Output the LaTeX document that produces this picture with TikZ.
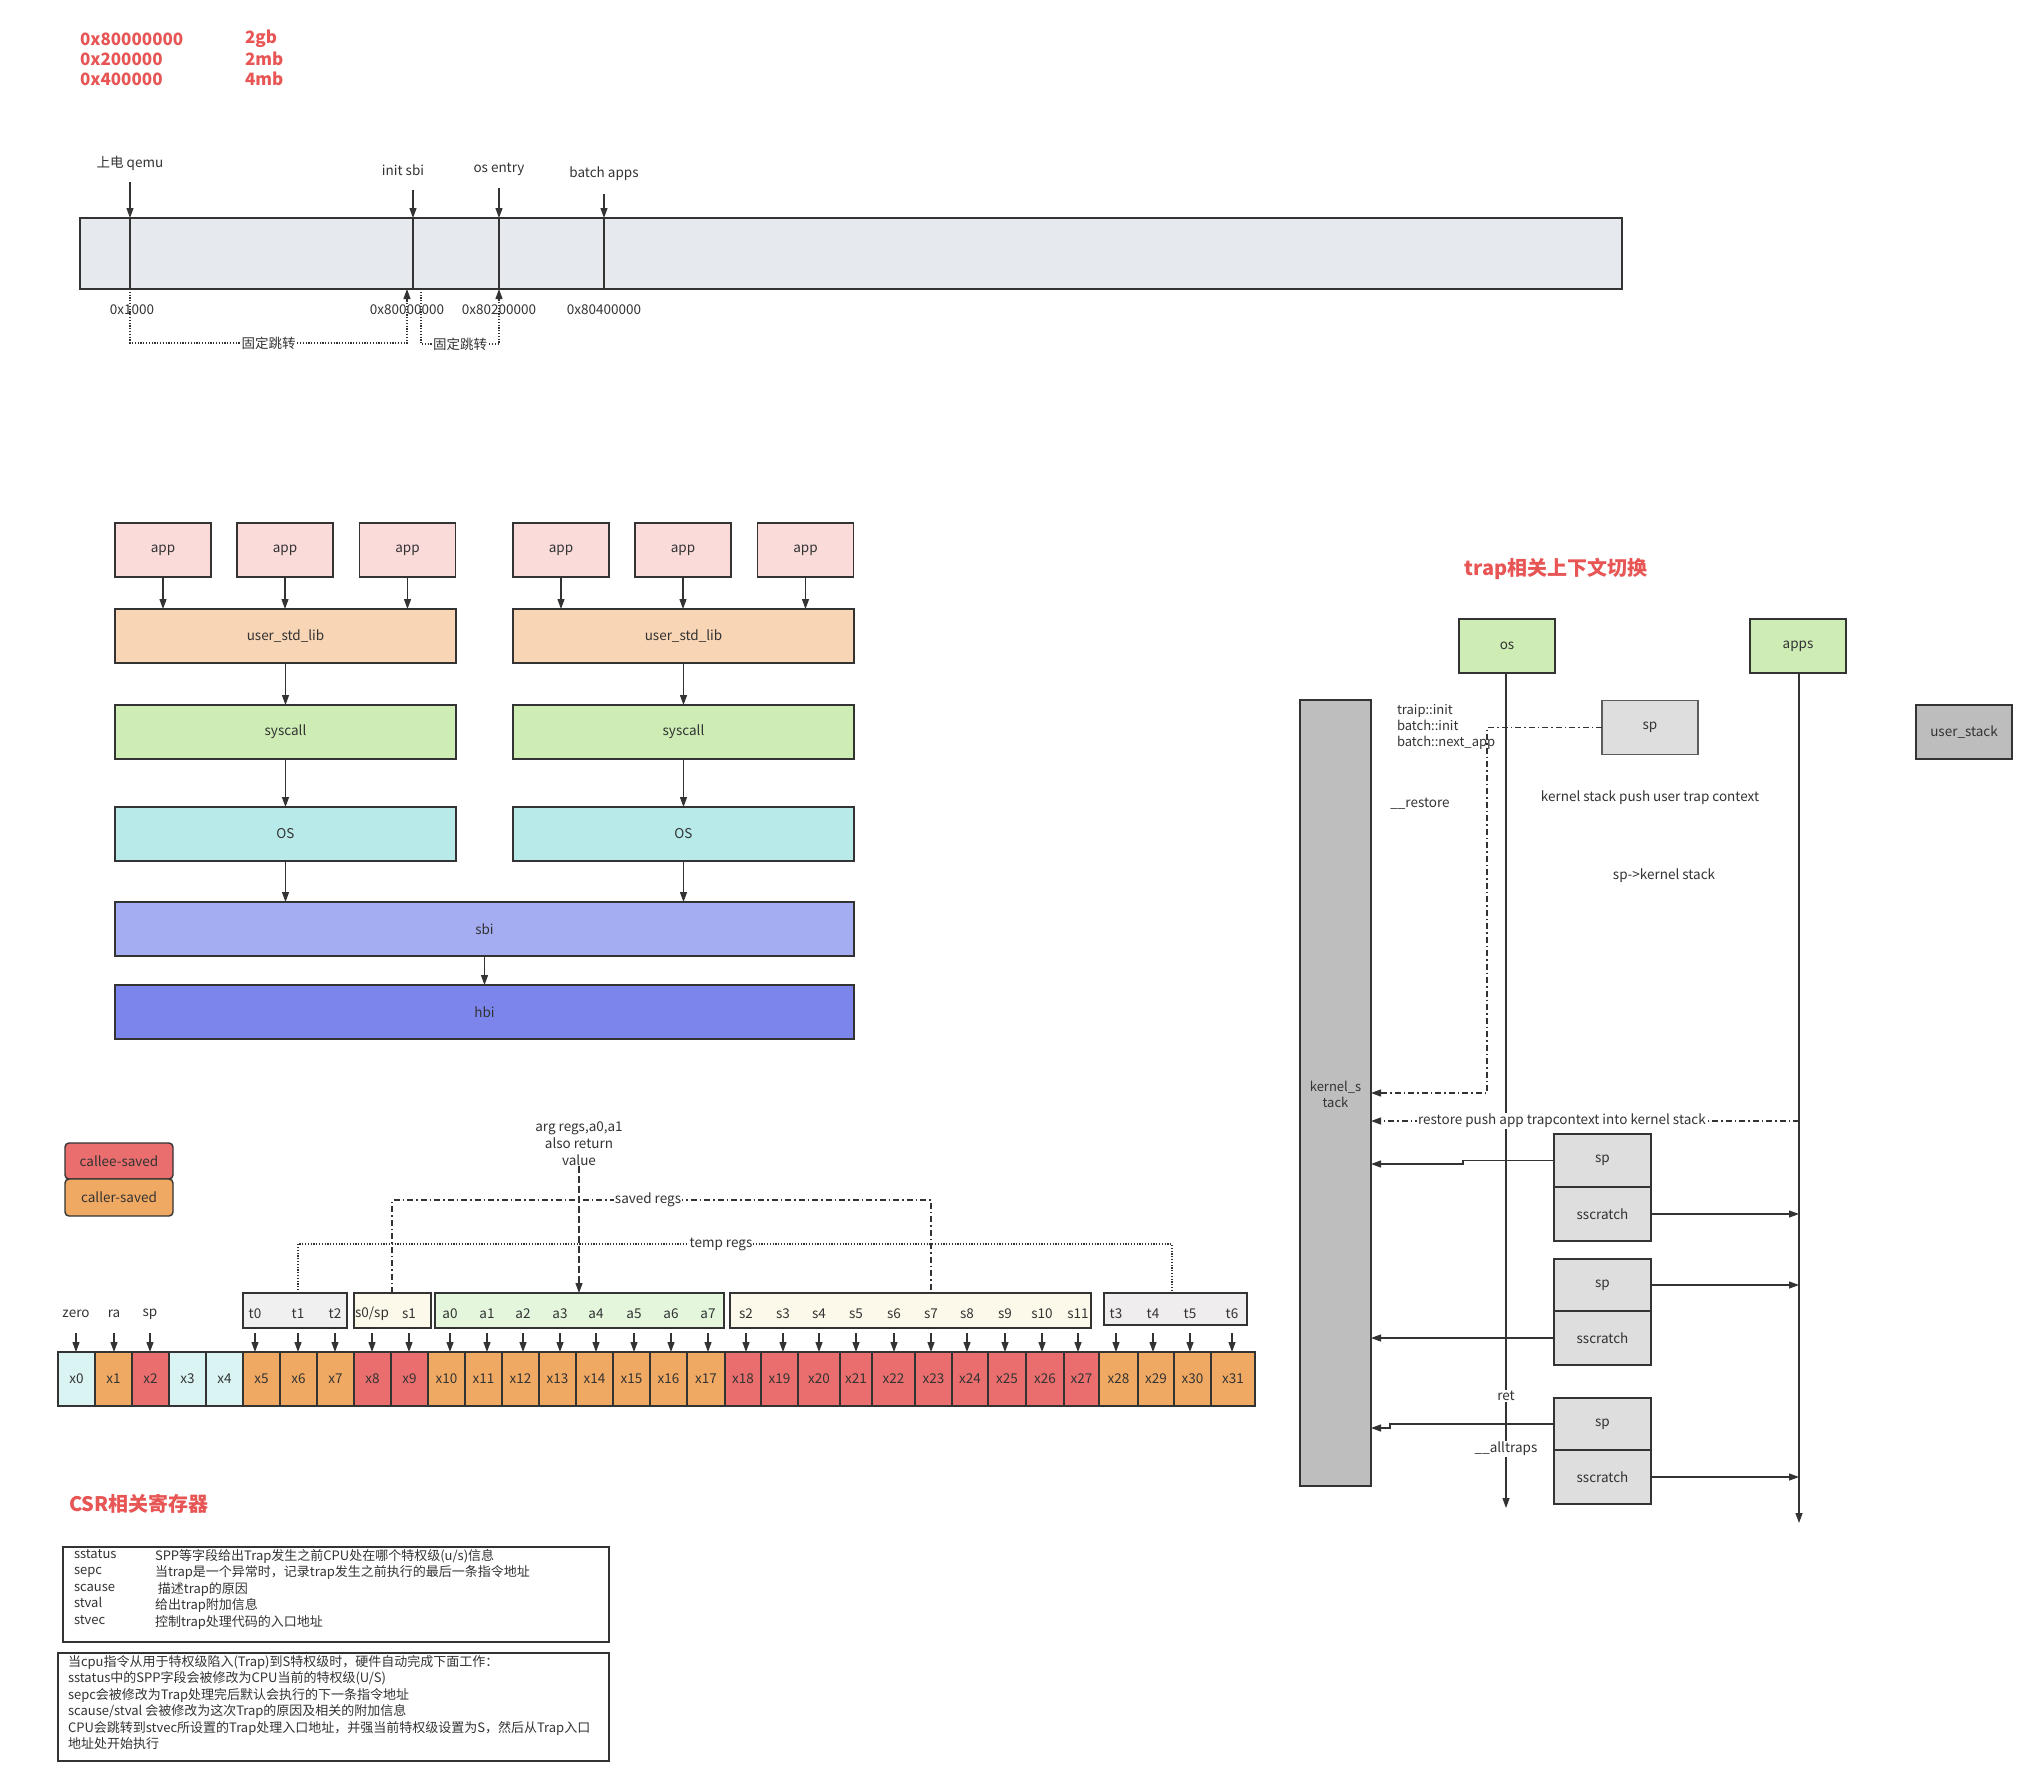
\documentclass[tikz,border=0pt]{standalone}
\usepackage{fontspec}
\setmainfont{Noto Sans CJK SC}
\usetikzlibrary{arrows.meta}

\definecolor{ink}{HTML}{333333}
\definecolor{accent}{HTML}{E85555}
\definecolor{memfill}{HTML}{E6EAEE}
\definecolor{appfill}{HTML}{FADBDA}
\definecolor{libfill}{HTML}{F8D5B5}
\definecolor{sysfill}{HTML}{CDEDB5}
\definecolor{osfill}{HTML}{B9EAEA}
\definecolor{sbifill}{HTML}{A4ACF2}
\definecolor{hbifill}{HTML}{7B85EB}
\definecolor{zerocell}{HTML}{DAF4F4}
\definecolor{callerfill}{HTML}{F0A963}
\definecolor{calleefill}{HTML}{EB6E6E}
\definecolor{tgroup}{HTML}{F0F0F0}
\definecolor{tgroupb}{HTML}{EFEDED}
\definecolor{sgroup}{HTML}{FCF8EA}
\definecolor{agroup}{HTML}{E4F6DC}
\definecolor{stackfill}{HTML}{BEBEBE}
\definecolor{regfill}{HTML}{DEDEDE}
\definecolor{ustack}{HTML}{BDBDBD}

\begin{document}
\begin{tikzpicture}[x=1pt,y=-1pt,
  every node/.style={text=ink,inner sep=0pt,outer sep=0pt,font=\fontsize{13.5}{16}\selectfont},
  box/.style={draw=ink,line width=1.4pt,rectangle},
  link/.style={draw=ink,line width=1.2pt,-{Triangle[length=10pt,width=7pt]}},
  wire/.style={draw=ink,line width=1.2pt},
  dotline/.style={draw=ink,line width=1.1pt,dash pattern=on 1.2pt off 1.6pt},
  dashdot/.style={draw=ink,line width=1.2pt,dash pattern=on 6pt off 3pt on 1.5pt off 3pt},
  dashline/.style={draw=ink,line width=1.2pt,dash pattern=on 7pt off 3pt},
  tag/.style={fill=white,inner sep=1pt},
  headline/.style={text=accent,font=\fontsize{20}{24}\selectfont\bfseries},
  memo/.style={text=accent,font=\fontsize{17}{20}\selectfont\bfseries,anchor=west},
]
\fill[white] (0,0) rectangle (2037,1786);
\useasboundingbox (0,0) rectangle (2037,1786);

% ---------- size notes ----------
\node[memo] (m1) at (80,39) {0x80000000};
\node[memo] (m2) at (80,59) {0x200000};
\node[memo] (m3) at (80,79) {0x400000};
\node[memo] (m4) at (245,39) {2gb};
\node[memo] (m5) at (245,59) {2mb};
\node[memo] (m6) at (245,79) {4mb};

% ---------- boot memory map ----------
\node[box,fill=memfill,minimum width=1542,minimum height=71] (mem) at (851,253.5) {};
\node (lq) at (130,163) {上电 qemu};
\node (li) at (403,170) {init sbi};
\node (lo) at (499,169) {os entry};
\node (lb) at (604,174) {batch apps};
\coordinate (kq) at (130,182);
\coordinate (ki) at (413,190);
\coordinate (ko) at (499,188);
\coordinate (kb) at (604,194);
\foreach \k in {kq,ki,ko,kb}{
  \draw[link] (\k) -- (\k |- mem.north);
  \draw[wire] (\k |- mem.north) -- (\k |- mem.south);
}
\node (aq) at (132,310) {0x1000};
\node (ai) at (407,310) {0x80000000};
\node (ao) at (499,310) {0x80200000};
\node (ab) at (604,310) {0x80400000};
\coordinate (d1a) at (130,343);
\coordinate (d1b) at (407,343);
\coordinate (d2a) at (421,344);
\coordinate (d2b) at (499,344);
\draw[dotline,-{Triangle[length=10pt,width=7pt]}] (d1a |- mem.south) -- (d1a) -- node[tag]{固定跳转} (d1b) -- (d1b |- mem.south);
\draw[dotline,-{Triangle[length=10pt,width=7pt]}] (d2a |- mem.south) -- (d2a) -- node[tag]{固定跳转} (d2b) -- (d2b |- mem.south);

% ---------- layered stack ----------
\foreach \n/\x in {1/163,2/285,3/407.5,4/561,5/683,6/805.5}
  \node[box,fill=appfill,minimum width=96,minimum height=54] (app\n) at (\x,550) {app};
\node[box,fill=libfill,minimum width=341,minimum height=54] (lib1) at (285.5,636) {user\_std\_lib};
\node[box,fill=libfill,minimum width=341,minimum height=54] (lib2) at (683.5,636) {user\_std\_lib};
\node[box,fill=sysfill,minimum width=341,minimum height=54] (sys1) at (285.5,732) {syscall};
\node[box,fill=sysfill,minimum width=341,minimum height=54] (sys2) at (683.5,732) {syscall};
\node[box,fill=osfill,minimum width=341,minimum height=54] (os1) at (285.5,834) {OS};
\node[box,fill=osfill,minimum width=341,minimum height=54] (os2) at (683.5,834) {OS};
\node[box,fill=sbifill,minimum width=739,minimum height=54] (sbi) at (484.5,929) {sbi};
\node[box,fill=hbifill,minimum width=739,minimum height=54] (hbi) at (484.5,1012) {hbi};
\foreach \n in {1,2,3}{\draw[link] (app\n.south) -- (app\n.south |- lib1.north);}
\foreach \n in {4,5,6}{\draw[link] (app\n.south) -- (app\n.south |- lib2.north);}
\draw[link] (lib1) -- (sys1);
\draw[link] (lib2) -- (sys2);
\draw[link] (sys1) -- (os1);
\draw[link] (sys2) -- (os2);
\draw[link] (os1.south) -- (os1.south |- sbi.north);
\draw[link] (os2.south) -- (os2.south |- sbi.north);
\draw[link] (sbi) -- (hbi);

% ---------- register legend ----------
\node[box,rounded corners=4pt,fill=calleefill,minimum width=108,minimum height=36] (leg1) at (119,1161) {callee-saved};
\node[box,rounded corners=4pt,fill=callerfill,minimum width=108,minimum height=37] (leg2) at (119,1197.5) {caller-saved};

% ---------- register file ----------
\foreach \n/\a/\b/\c in {0/58/95/zerocell, 1/95/132/callerfill, 2/132/169/calleefill, 3/169/206/zerocell,
  4/206/243/zerocell, 5/243/280/callerfill, 6/280/317/callerfill, 7/317/354/callerfill,
  8/354/391/calleefill, 9/391/428/calleefill, 10/428/465/callerfill, 11/465/502/callerfill,
  12/502/539/callerfill, 13/539/576/callerfill, 14/576/613/callerfill, 15/613/650/callerfill,
  16/650/687/callerfill, 17/687/725/callerfill, 18/725/761/calleefill, 19/761/798/calleefill,
  20/798/840/calleefill, 21/840/872/calleefill, 22/872/915/calleefill, 23/915/952/calleefill,
  24/952/988/calleefill, 25/988/1026/calleefill, 26/1026/1064/calleefill, 27/1064/1099/calleefill,
  28/1099/1138/callerfill, 29/1138/1174/callerfill, 30/1174/1211/callerfill, 31/1211/1255/callerfill}
  \node[box,fill=\c,minimum width={\b-\a},minimum height=54] (r\n) at ({(\a+\b)/2},1379) {x\n};

% ABI name groups
\node[box,fill=tgroup,minimum width=104,minimum height=35] (g1) at (295,1310.5) {};
\node[box,fill=sgroup,minimum width=77,minimum height=35] (g2) at (392.5,1310.5) {};
\node[box,fill=agroup,minimum width=289,minimum height=35] (g3) at (579.5,1310.5) {};
\node[box,fill=sgroup,minimum width=361,minimum height=35] (g4) at (910.5,1310.5) {};
\node[box,fill=tgroupb,minimum width=143,minimum height=32] (g5) at (1175.5,1309) {};

\foreach \lab/\x/\r in {zero/76/0, ra/114/1, sp/150/2, t0/255/5, t1/298/6, t2/335/7, s1/409/9,
  a0/450/10, a1/487/11, a2/523/12, a3/560/13, a4/596/14, a5/634/15, a6/671/16, a7/708/17,
  s2/746/18, s3/783/19, s4/819/20, s5/856/21, s6/894/22, s7/931/23, s8/967/24, s9/1005/25,
  s10/1042/26, s11/1078/27, t3/1116/28, t4/1153/29, t5/1190/30, t6/1232/31}{
  \node (n\r) at (\x,1314) {\lab};
  \draw[link] ([yshift=-19pt]n\r.center) -- (n\r.center |- r\r.north);
}
\node (n8) at (372,1314) {s0/sp};
\draw[link] ([yshift=-19pt]n8.center) -- (n8.center |- r8.north);

% group brackets
\node[align=center,font=\fontsize{13.5}{17}\selectfont] (argtxt) at (579,1144) {arg regs,a0,a1\\also return\\value};
\draw[dashline,-{Triangle[length=10pt,width=7pt]}] (argtxt.south) -- (argtxt.south |- g3.north);
\coordinate (sl) at (392,1200);
\coordinate (sr) at (931,1200);
\draw[dashdot] (sl |- g2.north) -- (sl) -- node[tag,pos=0.475]{saved regs} (sr) -- (sr |- g4.north);
\coordinate (tl) at (298,1244);
\coordinate (tr) at (1172,1244);
\draw[dotline] (tl |- g1.north) -- (tl) -- node[tag,pos=0.484]{temp regs} (tr) -- (tr |- g5.north);

% ---------- CSR notes ----------
\node[headline] (csrtitle) at (139,1504) {CSR相关寄存器};
\node[box,minimum width=546,minimum height=95] (csr1) at (336,1594.5) {};
\node[anchor=north west,align=left,font=\fontsize{13}{16.5}\selectfont] (csrnames) at (74,1549)
  {sstatus\\sepc\\scause\\stval\\stvec};
\node[anchor=north west,align=left,font=\fontsize{13}{16.5}\selectfont] (csrdesc) at (155,1549)
  {SPP等字段给出Trap发生之前CPU处在哪个特权级(u/s)信息\\
   当trap是一个异常时，记录trap发生之前执行的最后一条指令地址\\
   \ 描述trap的原因\\
   给出trap附加信息\\
   控制trap处理代码的入口地址};
\node[box,minimum width=551,minimum height=108] (csr2) at (333.5,1707) {};
\node[anchor=north west,align=left,font=\fontsize{13}{16.5}\selectfont] (trapnote) at (68,1655)
  {当cpu指令从用于特权级陷入(Trap)到S特权级时，硬件自动完成下面工作：\\
   sstatus中的SPP字段会被修改为CPU当前的特权级(U/S)\\
   sepc会被修改为Trap处理完后默认会执行的下一条指令地址\\
   scause/stval 会被修改为这次Trap的原因及相关的附加信息\\
   CPU会跳转到stvec所设置的Trap处理入口地址，并强当前特权级设置为S，然后从Trap入口\\
   地址处开始执行};

% ---------- trap context switch ----------
\node[headline] (traptitle) at (1556,569) {trap相关上下文切换};
\node[box,fill=sysfill,minimum width=96,minimum height=54] (osb) at (1507,646) {os};
\node[box,fill=sysfill,minimum width=96,minimum height=54] (appsb) at (1798,646) {apps};
\node[box,fill=stackfill,minimum width=71,minimum height=786] (ks) at (1335.5,1093) {};
\node[align=center,font=\fontsize{13}{16}\selectfont] (kslbl) at (1335.5,1094) {kernel\_s\\tack};
\node[box,draw=ink!80,fill=regfill,minimum width=96,minimum height=54] (sptop) at (1650,727.5) {sp};
\node[box,fill=ustack,minimum width=96,minimum height=54] (ust) at (1964,732) {user\_stack};

\coordinate (osend) at (1506,1508);
\coordinate (appsend) at (1799,1523);
\draw[link] (osb.south -| osend) -- (osend);
\draw[link] (appsb.south -| appsend) -- (appsend);

\node[anchor=north west,align=left,font=\fontsize{13}{16}\selectfont] (initnote) at (1397,704)
  {traip::init\\batch::init\\batch::next\_app};
\node (restore) at (1420,804) {\_\_restore};
\node (pushctx) at (1650,798) {kernel stack push user trap context};
\node (spks) at (1664,876) {sp->kernel stack};

\coordinate (bx) at (1487,1093);
\draw[dashdot,-{Triangle[length=10pt,width=7pt]}] (sptop.west) -- (sptop.west -| bx) -- (bx) -- (bx -| ks.east);

\coordinate (rsy) at (1799,1121);
\draw[dashdot,-{Triangle[length=10pt,width=7pt]}] (rsy) -- node[tag,pos=0.554]{restore push app trapcontext into kernel stack} (rsy -| ks.east);

% sp / sscratch pairs
\node[box,fill=regfill,minimum width=97,minimum height=53] (p1sp) at (1602.5,1160.5) {sp};
\node[box,fill=regfill,minimum width=97,minimum height=54] (p1sc) at (1602.5,1214) {sscratch};
\node[box,fill=regfill,minimum width=97,minimum height=52] (p2sp) at (1602.5,1285) {sp};
\node[box,fill=regfill,minimum width=97,minimum height=54] (p2sc) at (1602.5,1338) {sscratch};
\node[box,fill=regfill,minimum width=97,minimum height=52] (p3sp) at (1602.5,1424) {sp};
\node[box,fill=regfill,minimum width=97,minimum height=54] (p3sc) at (1602.5,1477) {sscratch};

\coordinate (j1) at (1463,1164);
\draw[link] (p1sp.west) -- (p1sp.west -| j1) -- (j1) -- (j1 -| ks.east);
\draw[link] (p1sc.east) -- (p1sc.east -| appsend);
\draw[link] (p2sp.east) -- (p2sp.east -| appsend);
\draw[link] (p2sc.west) -- (p2sc.west -| ks.east);
\coordinate (j3) at (1390,1428);
\draw[link] (p3sp.west) -- (p3sp.west -| j3) -- (j3) -- (j3 -| ks.east);
\draw[link] (p3sc.east) -- (p3sc.east -| appsend);

\node[tag] (retlbl) at (1506,1396) {ret};
\node[tag] (alltraps) at (1506,1449) {\_\_alltraps};
\end{tikzpicture}
\end{document}
